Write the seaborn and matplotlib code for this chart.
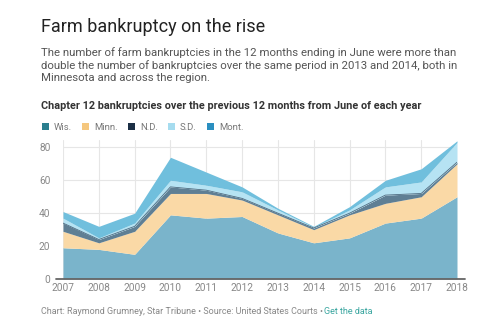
import matplotlib
matplotlib.use("Agg")
import matplotlib.pyplot as plt
import seaborn as sns
import numpy as np
from matplotlib.patches import Patch

years = [2007, 2008, 2009, 2010, 2011, 2012, 2013, 2014, 2015, 2016, 2017, 2018]
wis  = [19, 18, 15, 39, 37, 38, 28, 22, 25, 34, 37, 50]
minn = [10, 4, 14, 13, 15, 10, 11, 8, 14, 12, 13, 20]
nd   = [5, 2, 3, 4, 2, 1, 1, 1, 1, 5, 2, 1]
sd   = [3, 1, 2, 4, 3, 4, 2, 0.5, 2, 5, 7, 12]
mont = [4, 7, 6, 14, 8, 3, 1, 0.5, 2, 4, 8, 1]
series_names = ["Wis.", "Minn.", "N.D.", "S.D.", "Mont."]
yticks = [0, 20, 40, 60, 80]

area_colors = ["#7ab4cb", "#fad9a6", "#5f7f94", "#b6e3f3", "#70bfdd"]
legend_colors = ["#2b7f8f", "#f5c77e", "#1b2f45", "#a6dcef", "#2a8fc0"]

sns.set_theme(style="whitegrid")
plt.rcParams['font.family'] = ['Roboto', 'DejaVu Sans']

fig = plt.figure(figsize=(4.95, 3.25), dpi=100)
fig.patch.set_facecolor("white")
ax = fig.add_axes([63/495, 1-279/325, (457-63)/495, (279-140)/325])
ax.set_facecolor("white")

ax.stackplot(years, wis, minn, nd, sd, mont, colors=area_colors, linewidth=0, zorder=2)
top_nd = np.array(wis) + np.array(minn) + np.array(nd)
sns.lineplot(x=years, y=top_nd, ax=ax, color="#4f6b80", linewidth=0.6, zorder=3, legend=False)

ax.set_xlim(2007, 2018)
ax.set_ylim(0, 84.5)
ax.set_xticks(years)
ax.set_xticklabels([str(y) for y in years])
ax.set_yticks(yticks)
ax.grid(True, color="#e6e6e6", linewidth=0.8, zorder=0)
ax.set_axisbelow(True)
for s in ax.spines.values():
    s.set_visible(False)
ax.tick_params(axis="x", colors="#888888", labelsize=7.3, pad=3, length=0)
ax.tick_params(axis="y", colors="#888888", labelsize=7.3, pad=9, length=0)
ax.plot([-0.018, 1.02], [0, 0], transform=ax.transAxes, color="#666666",
        linewidth=1.3, clip_on=False, zorder=5)

fig.text(41/495, 1-27/325, "Farm bankruptcy on the rise", fontsize=13,
         color="#222222", va="center", ha="left")
sub = ("The number of farm bankruptcies in the 12 months ending in June were more than\n"
       "double the number of bankruptcies over the same period in 2013 and 2014, both in\n"
       "Minnesota and across the region.")
fig.text(41/495, 1-47/325, sub, fontsize=8.2, color="#555555", va="top", ha="left",
         linespacing=1.25)
fig.text(41/495, 1-106/325, "Chapter 12 bankruptcies over the previous 12 months from June of each year",
         fontsize=7.8, fontweight="bold", color="#333333", va="center", ha="left")

handles = [Patch(facecolor=c, edgecolor="none") for c in legend_colors]
fig.legend(handles, series_names, loc="center left", bbox_to_anchor=(33/495, 1-127/325),
           ncol=5, frameon=False, fontsize=6.8, handlelength=0.8, handleheight=0.8,
           handletextpad=0.5, columnspacing=1.05, labelcolor="#777777")

fig.text(41/495, 1-312/325, "Chart: Raymond Grumney, Star Tribune \u2022 Source: United States Courts \u2022",
         fontsize=6.5, color="#888888", va="center", ha="left")
fig.text(324/495, 1-312/325, "Get the data", fontsize=6.5, color="#3aa6a0",
         va="center", ha="left")

fig.savefig("out.png", dpi=100, facecolor="white")
